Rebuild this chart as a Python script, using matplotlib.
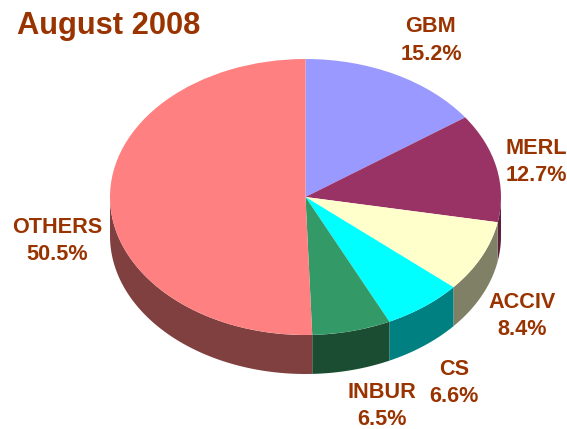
import numpy as np
import matplotlib
matplotlib.use('Agg')
import matplotlib.pyplot as plt

plt.rcParams['font.family'] = ['Liberation Sans', 'DejaVu Sans']

title = 'August 2008'
names = ['GBM', 'MERL', 'ACCIV', 'CS', 'INBUR', 'OTHERS']
values = [15.2, 12.7, 8.4, 6.6, 6.5, 50.5]
top_colors = ['#9999ff', '#993366', '#ffffcc', '#00ffff', '#339966', '#ff8080']
side_colors = ['#6b6bb3', '#5c1f3d', '#808066', '#008080', '#1b4d33', '#804040']
label_x = [431, 536, 522, 454, 382, 57]
label_y = [40.5, 162, 316, 383, 406, 241]

W, H = 567, 429
cx, cy, rx, ry = 305.5, 197, 195.5, 138
depth = 39 / ry

fig = plt.figure(figsize=(W / 100, H / 100), dpi=100)
bg = fig.add_axes([0, 0, 1, 1])
bg.set_xlim(0, W)
bg.set_ylim(H, 0)
bg.axis('off')

# unit circle of this axes lands on the ellipse of the pie top
ax = fig.add_axes([(cx - rx) / W, 1 - (cy + ry) / H, 2 * rx / W, 2 * ry / H])
ax.patch.set_alpha(0)
ax.set_clip_on(False)

# side wall first, only the front half shows
edges = np.cumsum([0] + values) / sum(values) * 2 * np.pi
for a0, a1, c in zip(edges[:-1], edges[1:], side_colors):
    lo, hi = max(a0, np.pi / 2), min(a1, 3 * np.pi / 2)
    if hi <= lo:
        continue
    t = np.linspace(lo, hi, 80)
    x, y = np.sin(t), np.cos(t)
    ax.fill(np.r_[x, x[::-1]], np.r_[y, y[::-1] - depth], color=c, lw=0, clip_on=False)

ax.pie(values, colors=top_colors, startangle=90, counterclock=False, radius=1,
       wedgeprops={'linewidth': 0})
ax.set_aspect('auto')
ax.set_xlim(-1, 1)
ax.set_ylim(-1, 1)

for name, v, x, y in zip(names, values, label_x, label_y):
    bg.text(x, y, f'{name}\n{v}%', ha='center', va='center', fontsize=15.6,
            fontweight='bold', color='#993300', linespacing=1.4, zorder=5)
bg.text(17, 26, title, ha='left', va='center', fontsize=22.2, fontweight='bold',
        color='#993300')

fig.savefig('out.png', dpi=100)
